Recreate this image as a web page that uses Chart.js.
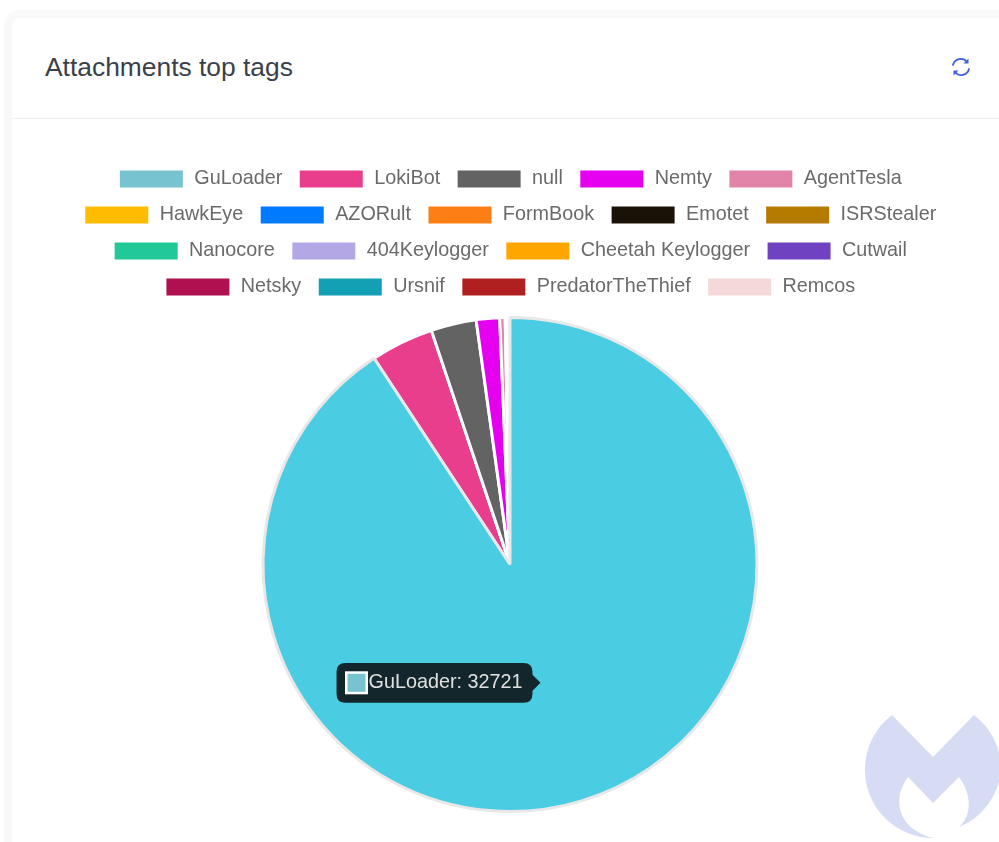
<!DOCTYPE html>
<html>
<head>
<meta charset="utf-8">
<title>Attachments top tags</title>
<script src="https://cdn.jsdelivr.net/npm/chart.js"></script>
<style>
  html, body { margin: 0; padding: 0; background: #fff; overflow: hidden; width: 999px; height: 842px; }
  body { position: relative; font-family: "Liberation Sans", Arial, sans-serif; }
  .card {
    position: absolute; left: 12px; top: 18px; width: 1000px; height: 840px;
    background: #fff; border-radius: 7px;
    box-shadow: 0 0 0 8px #f9f9fa;
  }
  .card-title {
    position: absolute; left: 45px; top: 52px; font-size: 26.4px; line-height: 30px;
    color: #3a3f4a;
  }
  .card-line { position: absolute; left: 12px; top: 118px; width: 987px; height: 1px; background: #f0f0f6; }
  .refresh { position: absolute; left: 950px; top: 56px; }
  .logo { position: absolute; left: 0; top: 0; }
  #wrap { position: absolute; left: 45px; top: 153px; width: 930px; height: 669px; }
</style>
</head>
<body>
<div class="card"></div>
<div class="card-title">Attachments top tags</div>
<div class="card-line"></div>
<svg class="refresh" width="22" height="22" viewBox="0 0 22 22" fill="none" stroke="#3f5fe0" stroke-width="1.800" stroke-linecap="round">
  <path d="M3 9 A8 8 0 0 1 17 6"/>
  <path d="M19 13 A8 8 0 0 1 5 16"/>
  <path d="M18.500 2.500 L18.500 7.500 L13.500 7.500 Z" fill="#3f5fe0" stroke="none"/>
  <path d="M3.500 19.500 L3.500 14.500 L8.500 14.500 Z" fill="#3f5fe0" stroke="none"/>
</svg>
<svg class="logo" width="999" height="842">
  <path fill="#d7dcf5" d="M892 715 L933 757 L974 715 A68 68 0 0 1 1001 770 A68 68 0 0 1 959 827 C972 815 972 795 959 777 L933 803 L908 777 C893 797 895 828 933 838 A68 68 0 0 1 865 770 A68 68 0 0 1 892 715 Z"/>
</svg>
<div id="wrap"><canvas id="tagsChart"></canvas></div>

<script>
const tagNames = ['GuLoader', 'LokiBot', 'null', 'Nemty', 'AgentTesla', 'HawkEye', 'AZORult', 'FormBook', 'Emotet', 'ISRStealer',
  'Nanocore', '404Keylogger', 'Cheetah Keylogger', 'Cutwail', 'Netsky', 'Ursnif', 'PredatorTheThief', 'Remcos'];
const tagCounts = [32721, 1486, 1070, 550, 128, 20, 18, 15, 12, 10, 8, 7, 6, 5, 4, 3, 2, 2];
const tagColors = ['#77c3cf', '#e83e8c', '#636363', '#e600f0', '#e283a9', '#ffbc00', '#007bff', '#fd7e14', '#1a1207', '#b57a00',
  '#20c997', '#b4a7e6', '#ffa600', '#6f42c1', '#b0104f', '#139fb4', '#b02020', '#f5d9d9'];
const hoverColors = ['#4acce2'].concat(tagColors.slice(1));

const ctx = document.getElementById('tagsChart');

const chart = new Chart(ctx, {
  type: 'pie',
  data: {
    labels: tagNames,
    datasets: [{
      data: tagCounts,
      radius: 247,
      backgroundColor: tagColors,
      hoverBackgroundColor: hoverColors,
      borderColor: '#ffffff',
      hoverBorderColor: '#e8e8e8',
      borderWidth: 3,
      hoverBorderWidth: 3
    }]
  },
  options: {
    responsive: true,
    maintainAspectRatio: false,
    animation: false,
    events: [],
    plugins: {
      legend: {
        position: 'top',
        labels: {
          boxWidth: 66,
          boxHeight: 20,
          padding: 16,
          color: '#6a6a6a',
          font: { size: 19.8, family: '"Liberation Sans", Arial, sans-serif' }
        }
      },
      tooltip: {
        enabled: true,
        animation: false,
        backgroundColor: '#12262c',
        bodyColor: '#e0e0e0',
        bodyFont: { size: 19.8, family: '"Liberation Sans", Arial, sans-serif' },
        padding: { x: 10, y: 8 },
        cornerRadius: 9,
        caretSize: 8,
        caretPadding: 5,
        boxWidth: 20,
        boxHeight: 20,
        borderWidth: 0,
        callbacks: {
          title: () => '',
          label: (item) => item.label + ': ' + item.parsed
        }
      }
    }
  }
});

// keep the first slice highlighted with its tooltip showing
const active = [{ datasetIndex: 0, index: 0 }];
chart.setActiveElements(active);
chart.tooltip.setActiveElements(active, { x: 0, y: 0 });
chart.update();
</script>
</body>
</html>
